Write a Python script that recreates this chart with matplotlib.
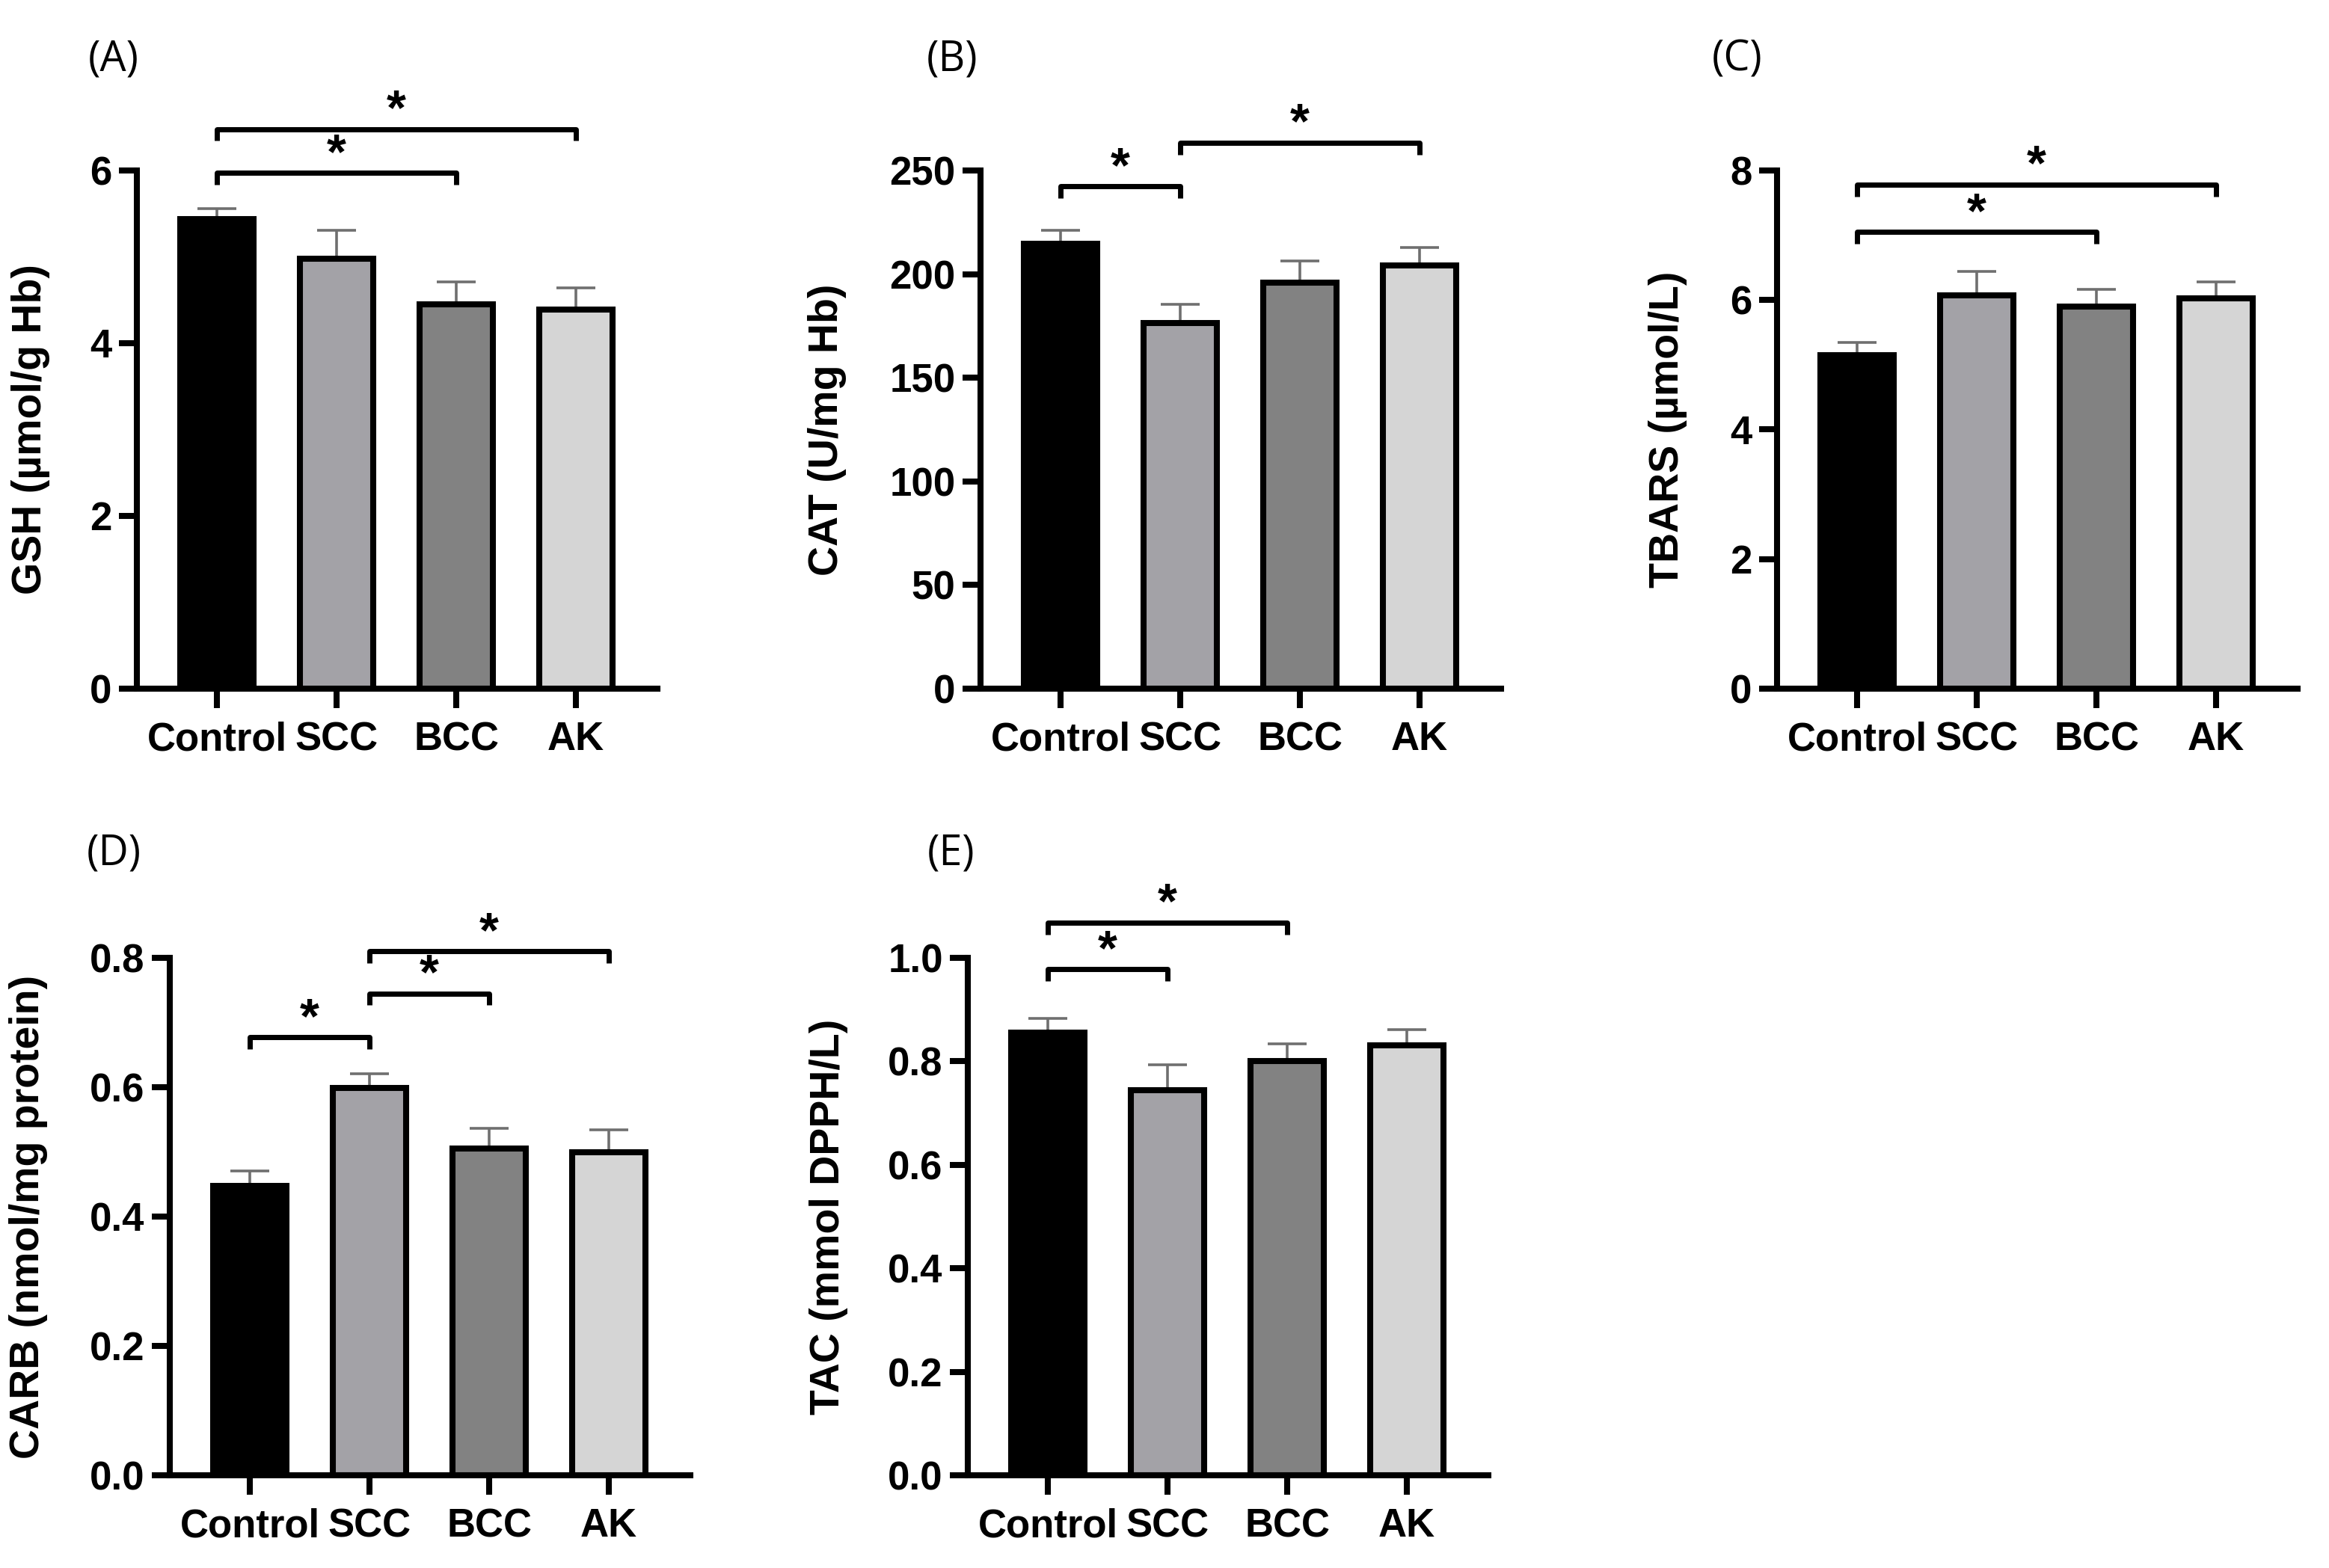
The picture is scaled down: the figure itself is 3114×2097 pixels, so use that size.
import matplotlib
matplotlib.use('Agg')
import matplotlib.pyplot as plt

plt.rcParams['font.family'] = ['Liberation Sans', 'DejaVu Sans']

groups = ['Control', 'SCC', 'BCC', 'AK']
colors = ['#000000', '#a3a2a7', '#828282', '#d5d5d5']

gsh = [5.44, 4.98, 4.45, 4.39]
gsh_err = [0.12, 0.33, 0.26, 0.25]
cat = [214.5, 176.5, 195.8, 204.3]
cat_err = [6.5, 8.8, 10.7, 8.5]
tbars = [5.15, 6.07, 5.90, 6.03]
tbars_err = [0.19, 0.37, 0.26, 0.25]
carb = [0.447, 0.599, 0.505, 0.500]
carb_err = [0.023, 0.022, 0.031, 0.034]
tac = [0.856, 0.744, 0.801, 0.831]
tac_err = [0.027, 0.049, 0.033, 0.030]

# (first group, second group, bracket height)
gsh_sig = [(0, 2, 5.97), (0, 3, 6.48)]
cat_sig = [(0, 1, 242.3), (1, 3, 263.3)]
tbars_sig = [(0, 2, 7.05), (0, 3, 7.78)]
carb_sig = [(0, 1, 0.677), (1, 2, 0.745), (1, 3, 0.810)]
tac_sig = [(0, 1, 0.978), (0, 2, 1.068)]

W, H = 3114, 2097
AX_W = 696


def make_axes(fig, left, top, bottom):
    return fig.add_axes([left / W, 1 - bottom / H, AX_W / W, (bottom - top) / H])


def bracket(ax, i, j, y, drop):
    ax.plot([i, i, j, j], [y - drop, y, y, y - drop], color='black', lw=5,
            clip_on=False, solid_joinstyle='round', solid_capstyle='butt',
            zorder=5)
    ax.annotate('*', xy=((i + j) / 2, y), xytext=(0, 17),
                textcoords='offset points', ha='center', va='center',
                fontsize=48, fontweight='bold', annotation_clip=False)


def panel(ax, vals, errs, sigs, ymax, step, label, label_x, fmt):
    x = list(range(len(groups)))
    ax.errorbar(x, vals, yerr=[[0] * len(errs), errs], fmt='none',
                ecolor='#6f6f6f', elinewidth=2.6, capsize=19, capthick=2.6,
                zorder=1)
    ax.bar(x, vals, width=0.61, color=colors, edgecolor='black',
           linewidth=5.8, zorder=2)
    ax.set_xlim(-0.67, 3.68)
    ax.set_ylim(0, ymax)
    n = int(round(ymax / step))
    ticks = [k * step for k in range(n + 1)]
    ax.set_yticks(ticks)
    ax.set_yticklabels([fmt.format(t) for t in ticks])
    ax.set_xticks(x)
    ax.set_xticklabels(groups)
    for s in ['top', 'right']:
        ax.spines[s].set_visible(False)
    for s in ['left', 'bottom']:
        ax.spines[s].set_linewidth(5.8)
    ax.tick_params(axis='y', length=17, width=5.8, pad=7, labelsize=38)
    ax.tick_params(axis='x', length=19, width=5.8, pad=12, labelsize=38)
    for t in ax.get_xticklabels() + ax.get_yticklabels():
        t.set_fontweight('bold')
    ax.set_ylabel(label, fontsize=40, fontweight='bold')
    ax.yaxis.set_label_coords(label_x, 0.5)
    drop = 0.023 * ymax
    for i, j, y in sigs:
        bracket(ax, i, j, y, drop)


fig = plt.figure(figsize=(W / 100, H / 100), dpi=100)

ax_a = make_axes(fig, 183, 228, 921)
panel(ax_a, gsh, gsh_err, gsh_sig, 6, 2, 'GSH (µmol/g Hb)', -0.167, '{:.0f}')
ax_b = make_axes(fig, 1311, 228, 921)
panel(ax_b, cat, cat_err, cat_sig, 250, 50, 'CAT (U/mg Hb)', -0.257, '{:.0f}')
ax_c = make_axes(fig, 2376, 228, 921)
panel(ax_c, tbars, tbars_err, tbars_sig, 8, 2, 'TBARS (µmol/L)', -0.172, '{:.0f}')
ax_d = make_axes(fig, 227, 1281, 1973)
panel(ax_d, carb, carb_err, carb_sig, 0.8, 0.2, 'CARB (nmol/mg protein)', -0.234,
      '{:.1f}')
ax_e = make_axes(fig, 1294, 1281, 1973)
panel(ax_e, tac, tac_err, tac_sig, 1.0, 0.2, 'TAC (mmol DPPH/L)', -0.23, '{:.1f}')

for txt, px, py in [('(A)', 152, 80), ('(B)', 1273, 80), ('(C)', 2323, 80),
                    ('(D)', 152, 1142), ('(E)', 1272, 1142)]:
    fig.text(px / W, 1 - py / H, txt, fontsize=40, ha='center', va='center',
             family=['Open Sans', 'DejaVu Sans'])

fig.savefig('out.png', dpi=100)
